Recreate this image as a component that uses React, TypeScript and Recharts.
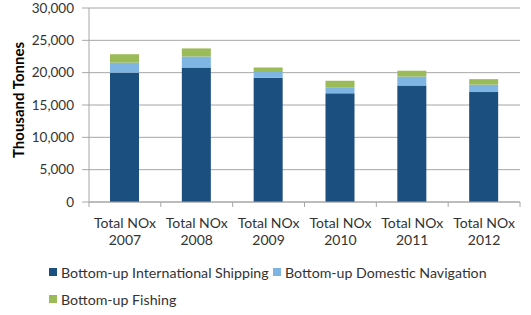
import React from "react";
import { BarChart, Bar, XAxis, YAxis, CartesianGrid } from "recharts";

const years = ["2007", "2008", "2009", "2010", "2011", "2012"];
const international = [20000, 20800, 19200, 16800, 18000, 17000];
const domestic = [1550, 1700, 900, 950, 1400, 1150];
const fishing = [1300, 1250, 700, 1000, 900, 850];
const yTicks = [0, 5000, 10000, 15000, 20000, 25000, 30000];

const series = [
  { key: "intl", name: "Bottom-up International Shipping", color: "#1A4F7F" },
  { key: "dom", name: "Bottom-up Domestic Navigation", color: "#7FB5E3" },
  { key: "fish", name: "Bottom-up Fishing", color: "#9BBB59" },
];

const data = years.map((y, i) => ({
  name: y,
  intl: international[i],
  dom: domestic[i],
  fish: fishing[i],
}));

const FONT = "Lato, 'Liberation Sans', sans-serif";

const XTick = (props: any) => {
  const { x, y, payload, index, visibleTicksCount } = props;
  const half = 431 / years.length / 2;
  return (
    <g>
      <line x1={x - half} x2={x - half} y1={y - 8} y2={y - 3} stroke="#A6A6A6" />
      {index === visibleTicksCount - 1 && (
        <line x1={x + half} x2={x + half} y1={y - 8} y2={y - 3} stroke="#A6A6A6" />
      )}
      <text x={x} y={y} textAnchor="middle" fill="#333" fontSize={14} fontFamily={FONT}>
        <tspan x={x} dy={18}>Total NOx</tspan>
        <tspan x={x} dy={17}>{payload.value}</tspan>
      </text>
    </g>
  );
};

const LegendBox = ({ s, x, y }: any) => (
  <div style={{ position: "absolute", left: x, top: y, display: "flex", alignItems: "center", height: 18 }}>
    <div style={{ width: 8, height: 8, background: s.color, marginRight: 4 }} />
    <span style={{ fontSize: 14.2, fontFamily: FONT, color: "#333", whiteSpace: "nowrap" }}>{s.name}</span>
  </div>
);

export default function App() {
  return (
    <div style={{ position: "absolute", left: 0, top: 0, width: 531, height: 315, background: "#fff" }}>
      <BarChart
        width={531}
        height={315}
        data={data}
        margin={{ top: 8, right: 11, bottom: 63, left: 0 }}
        barCategoryGap={0}
      >
        <CartesianGrid vertical={false} stroke="#A6A6A6" />
        <XAxis
          dataKey="name"
          height={50}
          axisLine={{ stroke: "#A6A6A6" }}
          tickLine={false}
          tick={<XTick />}
          interval={0}
        />
        <YAxis
          width={89}
          domain={[0, 30000]}
          ticks={yTicks}
          interval={0}
          axisLine={{ stroke: "#A6A6A6" }}
          tickLine={{ stroke: "#A6A6A6" }}
          tickSize={7}
          tickMargin={8}
          tickFormatter={(v: number) => v.toLocaleString("en-US")}
          tick={{ fill: "#333", fontSize: 13.5, fontFamily: FONT }}
          label={{
            value: "Thousand Tonnes",
            angle: -90,
            position: "insideLeft",
            dx: 14,
            dy: -5,
            style: { textAnchor: "middle", fontWeight: "bold", fontSize: 15, fill: "#000", fontFamily: FONT },
          }}
        />
        {series.map((s) => (
          <Bar
            key={s.key}
            dataKey={s.key}
            name={s.name}
            stackId="a"
            fill={s.color}
            barSize={29}
            isAnimationActive={false}
          />
        ))}
      </BarChart>
      <LegendBox s={series[0]} x={49} y={263} />
      <LegendBox s={series[1]} x={273} y={263} />
      <LegendBox s={series[2]} x={49} y={290} />
    </div>
  );
}
